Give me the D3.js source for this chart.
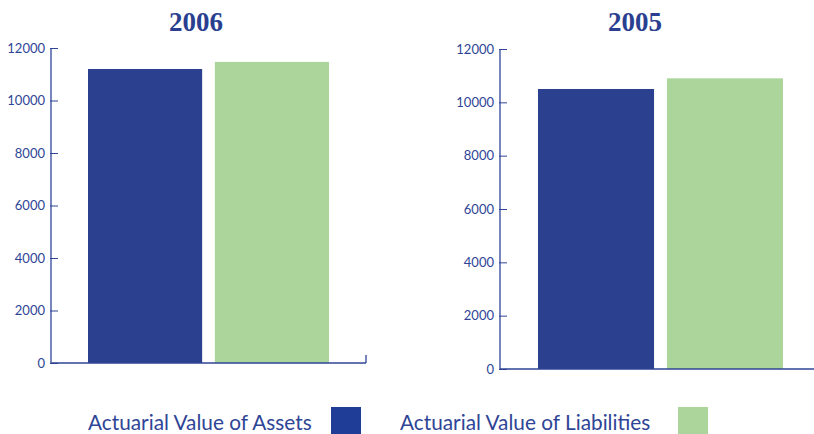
<!DOCTYPE html>
<html><head><meta charset="utf-8">
<script src="https://cdn.jsdelivr.net/npm/d3@7"></script>
<style>body{margin:0;background:#fff}</style>
</head><body>
<svg id="c" width="814" height="434"></svg>
<script>
const years = ["2006", "2005"];
const series = ["Actuarial Value of Assets", "Actuarial Value of Liabilities"];
const values2006 = [11200, 11470];
const values2005 = [10500, 10900];
const yTicks = [0, 2000, 4000, 6000, 8000, 10000, 12000];
const colors = ["#2b4190", "#acd59c"];
const legendColors = ["#1f3d96", "#acd59c"];
const textColor = "#2e4596";

const svg = d3.select("#c");
const panels = [
  {year: years[0], vals: values2006, x0: 51, x1: 366, yTop: 48, yBot: 363, bars: [88, 329], endTick: true, tx: 196},
  {year: years[1], vals: values2005, x0: 500, x1: 814, yTop: 49, yBot: 369, bars: [538, 783], endTick: false, tx: 635}
];
panels.forEach(p => {
  const g = svg.append("g");
  const y = d3.scaleLinear().domain([0, 12000]).range([p.yBot, p.yTop]);
  const x = d3.scaleBand().domain(series).range(p.bars).paddingInner(0.1);
  g.selectAll("rect").data(p.vals).join("rect")
    .attr("x", (d, i) => x(series[i])).attr("width", x.bandwidth())
    .attr("y", d => y(d)).attr("height", d => y(0) - y(d))
    .attr("fill", (d, i) => colors[i]);
  const ax = g.append("g").attr("transform", `translate(${p.x0},0)`)
    .call(d3.axisRight(y).tickValues(yTicks).tickSize(7).tickFormat(""));
  ax.select(".domain").remove();
  ax.selectAll("line").attr("stroke", textColor).attr("x1", -1);
  g.append("line").attr("x1", p.x0).attr("x2", p.x0).attr("y1", p.yTop).attr("y2", p.yBot)
    .attr("stroke", textColor).attr("stroke-width", 1.3);
  g.append("line").attr("x1", p.x0).attr("x2", p.x1).attr("y1", p.yBot).attr("y2", p.yBot)
    .attr("stroke", textColor).attr("stroke-width", 1.3);
  if (p.endTick) g.append("line").attr("x1", p.x1).attr("x2", p.x1).attr("y1", p.yBot - 8).attr("y2", p.yBot)
    .attr("stroke", textColor).attr("stroke-width", 1.3);
  g.selectAll("text.tl").data(yTicks).join("text").attr("class", "tl")
    .attr("x", p.x0 - 6).attr("y", d => y(d)).attr("dy", "0.35em")
    .attr("text-anchor", "end").attr("font-family", "Lato, sans-serif").attr("font-size", 13)
    .attr("fill", textColor).text(d => d);
  g.append("text").attr("x", p.tx).attr("y", 31)
    .attr("text-anchor", "middle").attr("font-family", "'Liberation Serif', serif").attr("font-weight", "bold")
    .attr("font-size", 27).attr("fill", "#2a3f8f").text(p.year);
});
const leg = [{x: 88, sx: 331}, {x: 400, sx: 678}];
series.forEach((s, i) => {
  svg.append("text").attr("x", leg[i].x).attr("y", 430).attr("font-family", "Lato, sans-serif")
    .attr("font-size", 20.8).attr("fill", textColor).text(s);
  svg.append("rect").attr("x", leg[i].sx).attr("y", 407).attr("width", 30).attr("height", 27)
    .attr("fill", legendColors[i]);
});
</script>
</body></html>
